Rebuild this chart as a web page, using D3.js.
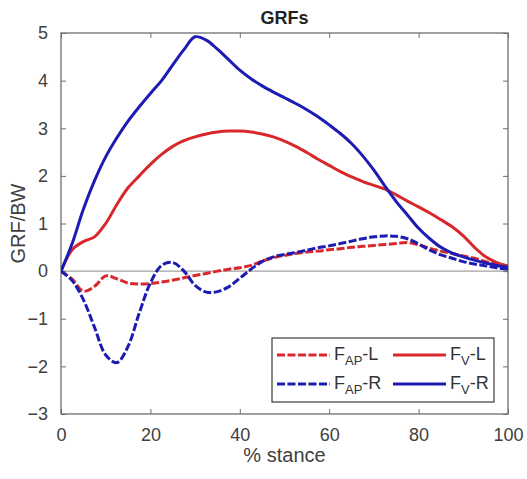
<!DOCTYPE html>
<html>
<head>
<meta charset="utf-8">
<title>GRFs</title>
<script src="https://cdn.jsdelivr.net/npm/d3@7"></script>
<style>
body { margin: 0; background: #fff; }
text { font-family: "Liberation Sans", Arial, sans-serif; }
</style>
</head>
<body>
<div id="chart"></div>
<script>
// % stance, sampled every 2.5 %
var pct = [0,2.5,5,7.5,10,12.5,15,17.5,20,22.5,25,27.5,30,32.5,35,37.5,40,42.5,45,47.5,50,
           52.5,55,57.5,60,62.5,65,67.5,70,72.5,75,77.5,80,82.5,85,87.5,90,92.5,95,97.5,100];

var fapL = [0,-0.17,-0.42,-0.32,-0.10,-0.16,-0.25,-0.27,-0.26,-0.23,-0.19,-0.14,-0.09,-0.05,0.00,0.04,0.07,0.12,0.21,0.28,0.33,
            0.37,0.40,0.42,0.45,0.47,0.50,0.52,0.54,0.56,0.58,0.60,0.55,0.48,0.42,0.37,0.32,0.27,0.20,0.15,0.11];
var fvL  = [0,0.45,0.62,0.72,1.00,1.40,1.75,2.00,2.24,2.45,2.62,2.74,2.82,2.88,2.92,2.94,2.94,2.92,2.88,2.82,2.73,
            2.62,2.49,2.35,2.22,2.09,1.98,1.88,1.80,1.72,1.60,1.47,1.35,1.22,1.08,0.93,0.74,0.50,0.30,0.18,0.10];
var fapR = [0,-0.20,-0.60,-1.18,-1.76,-1.92,-1.58,-0.88,-0.25,0.12,0.18,0.00,-0.30,-0.44,-0.43,-0.33,-0.15,0.04,0.20,0.30,0.35,
            0.39,0.44,0.49,0.53,0.58,0.63,0.68,0.72,0.74,0.73,0.68,0.57,0.44,0.34,0.27,0.20,0.15,0.11,0.07,0.04];
var fvR  = [0,0.58,1.30,1.90,2.40,2.80,3.15,3.45,3.73,4.00,4.33,4.65,4.92,4.85,4.66,4.44,4.22,4.04,3.89,3.76,3.64,
            3.52,3.39,3.24,3.07,2.89,2.68,2.42,2.12,1.78,1.46,1.18,0.90,0.68,0.50,0.38,0.30,0.23,0.17,0.12,0.08];

var xTicks = [0,20,40,60,80,100];
var yTicks = [-3,-2,-1,0,1,2,3,4,5];

var red = "#d8282c", blue = "#1c1cb2";
var series = [
  {name: "AP", side: "L", values: fapL, color: red,  dash: "8,2.5"},
  {name: "V",  side: "L", values: fvL,  color: red,  dash: null},
  {name: "AP", side: "R", values: fapR, color: blue, dash: "8,2.5"},
  {name: "V",  side: "R", values: fvR,  color: blue, dash: null}
];

var svgWidth = 527, svgHeight = 479;
var margin = {top: 33, right: 19, bottom: 65, left: 61};
var width = svgWidth - margin.left - margin.right,
    height = svgHeight - margin.top - margin.bottom;

var x = d3.scaleLinear().domain([0, 100]).range([0, width]);
var y = d3.scaleLinear().domain([-3, 5]).range([height, 0]);

var svg = d3.select("#chart").append("svg")
    .attr("width", svgWidth)
    .attr("height", svgHeight);

var g = svg.append("g")
    .attr("transform", "translate(" + margin.left + "," + margin.top + ")");

g.append("clipPath").attr("id", "clip")
  .append("rect").attr("width", width).attr("height", height);

// zero reference line
g.append("line")
    .attr("x1", x(0)).attr("x2", x(100))
    .attr("y1", y(0)).attr("y2", y(0))
    .attr("stroke", "#a0a0a0")
    .attr("stroke-width", 1.2);

// axes, ticks inward like matlab
var axisColor = "#6e6e6e";
function styleAxis(sel, showText) {
  sel.select(".domain").remove();
  sel.selectAll(".tick line").attr("stroke", axisColor);
  sel.selectAll(".tick text")
     .attr("fill", "#404040")
     .attr("font-size", "18px")
     .style("display", showText ? null : "none");
}

g.append("g")
    .attr("transform", "translate(0," + height + ")")
    .call(d3.axisBottom(x).tickValues(xTicks).tickSize(-5).tickPadding(14))
    .call(styleAxis, true);
g.append("g")
    .call(d3.axisTop(x).tickValues(xTicks).tickSize(-5))
    .call(styleAxis, false);
g.append("g")
    .call(d3.axisLeft(y).tickValues(yTicks).tickSize(-5).tickPadding(13))
    .call(styleAxis, true);
g.append("g")
    .attr("transform", "translate(" + width + ",0)")
    .call(d3.axisRight(y).tickValues(yTicks).tickSize(-5))
    .call(styleAxis, false);

g.append("rect")
    .attr("width", width).attr("height", height)
    .attr("fill", "none")
    .attr("stroke", axisColor)
    .attr("stroke-width", 1.3);

// curves
var line = d3.line()
    .x(function(d, i) { return x(pct[i]); })
    .y(function(d) { return y(d); })
    .curve(d3.curveCatmullRom.alpha(0.5));

g.append("g").attr("clip-path", "url(#clip)")
  .selectAll("path.curve")
  .data(series)
  .enter()
  .append("path")
    .attr("class", "curve")
    .attr("d", function(d) { return line(d.values); })
    .attr("fill", "none")
    .attr("stroke", function(d) { return d.color; })
    .attr("stroke-width", 3)
    .attr("stroke-dasharray", function(d) { return d.dash; })
    .attr("stroke-linejoin", "round");

// title + labels
svg.append("text")
    .attr("x", margin.left + width / 2)
    .attr("y", 24)
    .attr("text-anchor", "middle")
    .attr("font-size", "18px")
    .attr("font-weight", "bold")
    .attr("fill", "#222")
    .text("GRFs");

svg.append("text")
    .attr("x", margin.left + width / 2)
    .attr("y", 462)
    .attr("text-anchor", "middle")
    .attr("font-size", "20px")
    .attr("fill", "#404040")
    .text("% stance");

svg.append("text")
    .attr("transform", "translate(25," + (margin.top + height / 2) + ") rotate(-90)")
    .attr("text-anchor", "middle")
    .attr("font-size", "20px")
    .attr("fill", "#404040")
    .text("GRF/BW");

// legend
var legend = svg.append("g").attr("transform", "translate(272,338)");
legend.append("rect")
    .attr("width", 222).attr("height", 64)
    .attr("fill", "#fff")
    .attr("stroke", "#3a3a3a")
    .attr("stroke-width", 1.2);

var legItems = legend.selectAll("g.item")
    .data(series)
    .enter()
    .append("g")
    .attr("class", "item")
    .attr("transform", function(d, i) {
      var col = d.name === "AP" ? 0 : 1, row = d.side === "L" ? 0 : 1;
      return "translate(" + (col === 0 ? 5 : 121) + "," + (row === 0 ? 17 : 46) + ")";
    });

legItems.append("line")
    .attr("x1", 0).attr("x2", 53)
    .attr("stroke", function(d) { return d.color; })
    .attr("stroke-width", 3)
    .attr("stroke-dasharray", function(d) { return d.dash; });

var lt = legItems.append("text")
    .attr("x", 57)
    .attr("y", 5)
    .attr("font-size", "18px")
    .attr("fill", "#333");
lt.append("tspan").text("F");
lt.append("tspan").attr("dy", 5).attr("font-size", "13px").text(function(d) { return d.name; });
lt.append("tspan").attr("dy", -5).text(function(d) { return "-" + d.side; });
</script>
</body>
</html>
